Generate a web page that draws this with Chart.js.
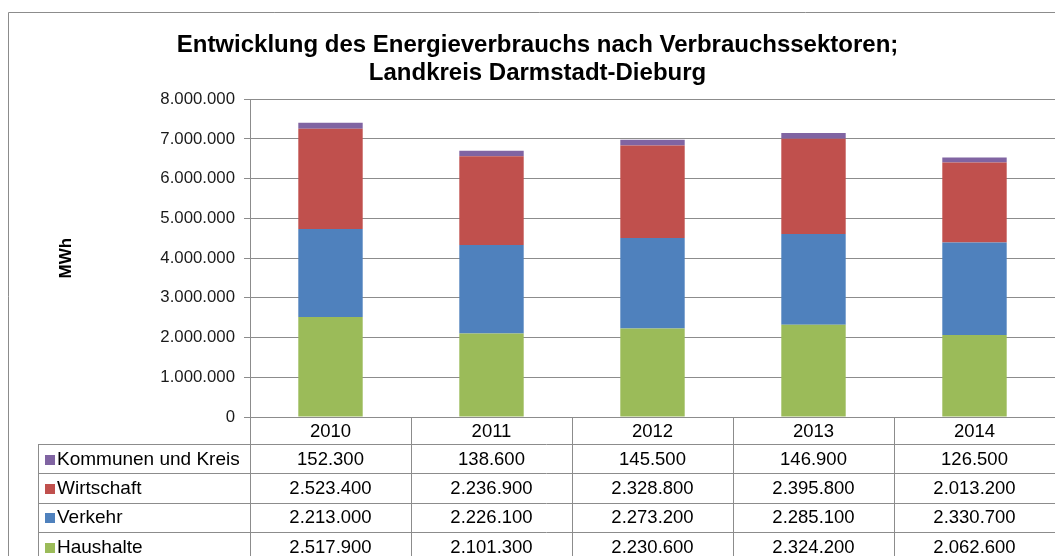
<!DOCTYPE html>
<html>
<head>
<meta charset="utf-8">
<script src="https://cdn.jsdelivr.net/npm/chart.js@4"></script>
<style>
  html, body { margin: 0; padding: 0; background: #fff; overflow: hidden; }
  #wrap { position: absolute; left: 0; top: 0; }
</style>
</head>
<body>
<div id="wrap"><canvas id="energyChart" width="1070" height="580"></canvas></div>
<script>
// --- Data ---
const years = ['2010', '2011', '2012', '2013', '2014'];
const haushalte = [2517900, 2101300, 2230600, 2324200, 2062600];
const verkehr = [2213000, 2226100, 2273200, 2285100, 2330700];
const wirtschaft = [2523400, 2236900, 2328800, 2395800, 2013200];
const kommunen = [152300, 138600, 145500, 146900, 126500];
const yMax = 8000000;
const yStep = 1000000;

const FONT = '"Liberation Sans", Arial, sans-serif';
const lineColor = '#8c8c8c';

// German thousands separator: 2523400 -> 2.523.400
function fmt(v) {
    return String(v).replace(/\B(?=(\d{3})+(?!\d))/g, '.');
}

// --- Data table under the plot (legend keys + values) ---
const dataTable = {
    id: 'dataTable',
    afterDraw(chart) {
        const { ctx, chartArea: area, scales: { x } } = chart;
        const n = years.length;
        const colW = (area.right - area.left) / n;
        const top = Math.round(area.bottom);
        const headTop = top + 27;
        const rowH = 29.3;
        const tableLeft = 38;
        const bottom = chart.height;
        const px = v => Math.round(v) + 0.5;

        // rows are listed top-down, i.e. reverse of the stack order
        const rows = chart.data.datasets.slice().reverse();

        ctx.save();
        ctx.strokeStyle = lineColor;
        ctx.lineWidth = 1;
        ctx.beginPath();
        // outer chart frame
        ctx.rect(8.5, 12.5, 3000, 3000);
        // axis line continues through the table
        ctx.moveTo(px(area.left), top);
        ctx.lineTo(px(area.left), bottom);
        // column separators
        for (let i = 0; i < n; i++) {
            const xr = x.getPixelForValue(i) + colW / 2;
            ctx.moveTo(px(xr), top);
            ctx.lineTo(px(xr), bottom);
        }
        // legend column left edge
        ctx.moveTo(px(tableLeft), px(headTop));
        ctx.lineTo(px(tableLeft), bottom);
        // row lines
        for (let r = 0; r <= rows.length; r++) {
            const y = px(headTop + r * rowH);
            ctx.moveTo(tableLeft, y);
            ctx.lineTo(area.right, y);
        }
        ctx.stroke();

        ctx.textBaseline = 'middle';
        rows.forEach((ds, r) => {
            const cy = headTop + r * rowH + rowH / 2 + 1;
            // legend key
            ctx.fillStyle = ds.backgroundColor;
            ctx.fillRect(45, Math.round(cy - 5), 10, 10);
            ctx.fillStyle = '#000';
            ctx.font = '19px ' + FONT;
            ctx.textAlign = 'left';
            ctx.fillText(ds.label, 57, cy);
            // values
            ctx.font = '18.5px ' + FONT;
            ctx.textAlign = 'center';
            ds.data.forEach((v, i) => {
                ctx.fillText(fmt(v), x.getPixelForValue(i), cy);
            });
        });
        ctx.restore();
    }
};

const ctx = document.getElementById('energyChart').getContext('2d');
const energyChart = new Chart(ctx, {
    type: 'bar',
    data: {
        labels: years,
        datasets: [
            { label: 'Haushalte', data: haushalte, backgroundColor: '#9bbb59' },
            { label: 'Verkehr', data: verkehr, backgroundColor: '#4f81bd' },
            { label: 'Wirtschaft', data: wirtschaft, backgroundColor: '#c0504d' },
            { label: 'Kommunen und Kreis', data: kommunen, backgroundColor: '#8064a2' }
        ]
    },
    options: {
        responsive: false,
        animation: false,
        devicePixelRatio: 1,
        layout: { padding: { left: 20, top: 12, right: 15, bottom: 0 } },
        datasets: { bar: { categoryPercentage: 1, barPercentage: 0.4, borderWidth: 0 } },
        plugins: {
            legend: { display: false },
            tooltip: { enabled: false },
            title: {
                display: true,
                text: ['Entwicklung des Energieverbrauchs nach Verbrauchssektoren;', 'Landkreis Darmstadt-Dieburg'],
                color: '#000',
                font: { family: FONT, size: 24, weight: 'bold', lineHeight: 1.15 },
                padding: { top: 20, bottom: 12 }
            }
        },
        scales: {
            x: {
                stacked: true,
                grid: { display: false, drawTicks: false },
                border: { display: false },
                ticks: { color: '#000', font: { family: FONT, size: 18.5 }, padding: 4, maxRotation: 0 },
                afterFit(scale) { scale.height = 580 - 417; }
            },
            y: {
                stacked: true,
                min: 0,
                max: yMax,
                grid: { color: lineColor, tickLength: 6 },
                border: { color: lineColor },
                ticks: {
                    stepSize: yStep,
                    color: '#1a1a1a',
                    padding: 9,
                    font: { family: FONT, size: 16.8 },
                    callback: v => fmt(v)
                },
                title: {
                    display: true,
                    text: 'MWh',
                    color: '#000',
                    font: { family: FONT, size: 17, weight: 'bold' },
                    padding: { top: 36, bottom: 0 }
                },
                afterFit(scale) { scale.width = 250 - 20; }
            }
        }
    },
    plugins: [dataTable]
});
</script>
</body>
</html>
